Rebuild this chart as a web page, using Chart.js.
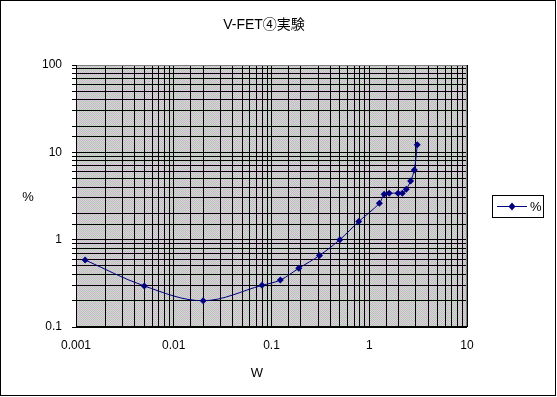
<!DOCTYPE html>
<html>
<head>
<meta charset="utf-8">
<script src="https://cdn.jsdelivr.net/npm/chart.js@4/dist/chart.umd.min.js"></script>
<style>
  html, body { margin: 0; padding: 0; background: #fff; }
  #wrap { width: 557px; height: 397px; position: relative; }
</style>
</head>
<body>
<div id="wrap"><canvas id="c" width="557" height="397"></canvas></div>
<script>
// V-FET④実験 — 出力(W) と 歪率(%)
const chartTitle = 'V-FET④実験';
const xTitle = 'W';
const yTitle = '%';
const seriesName = '%';

const wValues   = [0.00124, 0.005, 0.02, 0.08, 0.123, 0.19, 0.31, 0.5, 0.78, 1.27, 1.42, 1.6, 1.97, 2.18, 2.39, 2.65, 2.89, 3.1];
const pctValues = [0.585, 0.295, 0.2, 0.3, 0.345, 0.47, 0.66, 1.0, 1.61, 2.61, 3.31, 3.4, 3.4, 3.4, 3.78, 4.7, 6.29, 12.2];

const xTickValues = [0.001, 0.01, 0.1, 1, 10];
const xTickLabels = ['0.001', '0.01', '0.1', '1', '10'];
const yTickValues = [0.1, 1, 10, 100];
const yTickLabels = ['0.1', '1', '10', '100'];

const FONT = '"Liberation Sans", Arial, sans-serif';
const NAVY = '#000080';

function _labelFor(v, vals, labels) {
  const i = vals.findIndex(t => Math.abs(Math.log10(v) - Math.log10(t)) < 1e-6);
  return i >= 0 ? labels[i] : '';
}

// ディザ風の背景パターン (灰色 + ピンク/緑)
function _makePattern(ctx) {
  const p = document.createElement('canvas');
  p.width = 2; p.height = 2;
  const g = p.getContext('2d');
  const cols = [
    ['#c0c0c0', '#e6c6e6'],
    ['#c6e2c6', '#c0c0c0'],
  ];
  for (let y = 0; y < 2; y++) for (let x = 0; x < 2; x++) {
    g.fillStyle = cols[y][x]; g.fillRect(x, y, 1, 1);
  }
  return ctx.createPattern(p, 'repeat');
}

const decor = {
  id: 'decor',
  beforeDraw(chart) {
    const { ctx, chartArea: a } = chart;
    ctx.save();
    ctx.fillStyle = '#fff';
    ctx.fillRect(0, 0, chart.width, chart.height);
    ctx.fillStyle = _makePattern(ctx);
    ctx.fillRect(a.left, a.top, a.right - a.left, a.bottom - a.top);
    ctx.restore();
  },
  afterDraw(chart) {
    const { ctx, chartArea: a } = chart;
    ctx.save();
    // 枠
    ctx.strokeStyle = '#000'; ctx.lineWidth = 1;
    ctx.strokeRect(0.5, 0.5, 555, 395);
    ctx.strokeStyle = '#808080';
    ctx.beginPath();
    ctx.moveTo(a.left, a.top + 0.5); ctx.lineTo(a.right - 0.5, a.top + 0.5); ctx.lineTo(a.right - 0.5, a.bottom);
    ctx.stroke();
    ctx.strokeStyle = '#000';
    ctx.beginPath();
    ctx.moveTo(a.left + 0.5, a.top); ctx.lineTo(a.left + 0.5, a.bottom - 0.5); ctx.lineTo(a.right, a.bottom - 0.5);
    ctx.stroke();

    // タイトル
    ctx.fillStyle = '#000';
    ctx.textAlign = 'center'; ctx.textBaseline = 'middle';
    ctx.font = '14px "Liberation Sans", "Noto Sans CJK JP", sans-serif';
    ctx.fillText(chartTitle, 264, 25);
    ctx.font = '13px ' + FONT;
    ctx.fillText(xTitle, 257, 373);
    ctx.fillText(yTitle, 28, 197);

    // 凡例
    ctx.strokeStyle = '#000';
    ctx.strokeRect(492.5, 195.5, 51, 22);
    ctx.strokeStyle = NAVY; ctx.lineWidth = 1;
    ctx.beginPath(); ctx.moveTo(497, 206.5); ctx.lineTo(527, 206.5); ctx.stroke();
    ctx.fillStyle = NAVY;
    ctx.beginPath();
    ctx.moveTo(512, 202.5); ctx.lineTo(515.5, 206.5); ctx.lineTo(512, 210.5); ctx.lineTo(508.5, 206.5);
    ctx.closePath(); ctx.fill();
    ctx.fillStyle = '#000';
    ctx.textAlign = 'left';
    ctx.font = '13px ' + FONT;
    ctx.fillText(seriesName, 530, 207);
    ctx.restore();
  }
};

new Chart(document.getElementById('c').getContext('2d'), {
  type: 'scatter',
  data: {
    datasets: [{
      label: seriesName,
      data: wValues.map((w, i) => ({ x: w, y: pctValues[i] })),
      showLine: true,
      borderColor: NAVY,
      borderWidth: 1,
      backgroundColor: NAVY,
      pointStyle: 'rectRot',
      pointRadius: 3.5,
      pointBorderWidth: 0,
      tension: 0.35,
    }]
  },
  options: {
    responsive: false, animation: false, devicePixelRatio: 1,
    layout: { padding: { left: 0, top: 65, right: 90, bottom: 0 } },
    plugins: { legend: { display: false }, title: { display: false }, tooltip: { enabled: false } },
    scales: {
      x: {
        type: 'logarithmic', min: 0.001, max: 10,
        afterFit: s => { s.height = 70; },
        border: { display: false },
        grid: { color: '#000', lineWidth: 1, drawTicks: false },
        ticks: {
          autoSkip: false, maxRotation: 0, padding: 11, color: '#000',
          font: { family: FONT, size: 12 },
          callback: v => _labelFor(v, xTickValues, xTickLabels)
        }
      },
      y: {
        type: 'logarithmic', min: 0.1, max: 100,
        afterFit: s => { s.width = 76; },
        border: { display: false },
        grid: { color: '#000', lineWidth: 1, tickLength: 4 },
        ticks: {
          autoSkip: false, padding: 10, color: '#000',
          font: { family: FONT, size: 12 },
          callback: v => _labelFor(v, yTickValues, yTickLabels)
        }
      }
    }
  },
  plugins: [decor]
});
</script>
</body>
</html>
